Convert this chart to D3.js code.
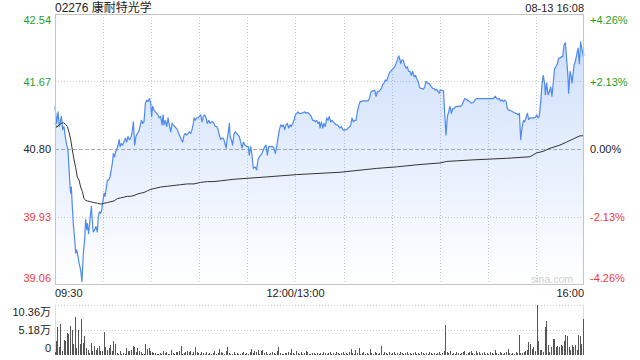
<!DOCTYPE html>
<html><head><meta charset="utf-8">
<script src="https://cdn.jsdelivr.net/npm/d3@7/dist/d3.min.js"></script>
<style>
html,body{margin:0;padding:0;background:#fff;}
svg{display:block;font-family:"Liberation Sans",Arial,"Noto Sans CJK SC",sans-serif;}
</style></head>
<body><svg id="c" width="640" height="360"></svg>
<script>
const title = "02276 康耐特光学";
const stamp = "08-13 16:08";
const prevClose = 40.80;
const priceTicks = [42.54, 41.67, 40.80, 39.93, 39.06];
const priceTickLabels = ["42.54", "41.67", "40.80", "39.93", "39.06"];
const pctTickLabels = ["+4.26%", "+2.13%", "0.00%", "-2.13%", "-4.26%"];
const timeTicks = [0, 150, 330];
const timeTickLabels = ["09:30", "12:00/13:00", "16:00"];
const volTicks = [10.36, 5.18, 0];
const volTickLabels = ["10.36万", "5.18万", "0"];

// [minute since 09:30 (lunch removed), price]
const pricePoints = [
[0,41.35],[1.0,41.13],[1.9,41.28],[2.7,41.09],[4.0,41.22],[4.8,41.05],[5.6,41.09],[6.4,40.96],[7.3,40.85],[8.1,40.79],[8.7,40.57],[9.4,40.31],[9.8,40.23],[10.2,40.31],[10.8,40.06],[11.4,39.84],[12.3,39.63],[12.9,39.46],[13.5,39.50],[14.4,39.41],[15.0,39.33],[16.0,39.24],[16.8,39.09],[17.7,39.46],[18.5,39.63],[19.1,39.89],[19.8,39.76],[20.2,39.84],[21.0,39.71],[21.8,39.89],[22.7,40.06],[23.5,39.80],[23.9,39.73],[24.8,39.76],[25.6,39.80],[26.4,39.73],[27.0,39.93],[27.7,39.99],[28.5,39.97],[29.1,40.01],[29.7,40.10],[30.6,40.23],[31.2,40.19],[31.8,40.27],[32.7,40.40],[33.5,40.40],[34.3,40.44],[35.1,40.53],[35.8,40.62],[36.4,40.74],[37.2,40.70],[37.9,40.77],[38.5,40.79],[39.3,40.85],[40.1,40.92],[40.6,40.83],[41.4,40.87],[42.2,40.85],[43.0,40.89],[43.9,40.94],[44.7,40.89],[45.5,40.96],[46.4,40.92],[47.2,40.94],[48.0,41.00],[48.9,41.15],[49.3,41.00],[49.7,40.85],[50.5,40.96],[51.4,41.00],[52.2,41.02],[53.0,41.09],[53.9,41.17],[54.7,41.13],[55.5,41.15],[56.4,41.39],[57.2,41.43],[58.0,41.41],[58.9,41.45],[59.7,41.39],[60.3,41.22],[60.9,41.35],[61.8,41.30],[62.6,41.28],[63.4,41.26],[64.3,41.24],[65.1,41.20],[65.9,41.22],[66.8,41.11],[67.4,41.24],[68.0,41.11],[68.8,41.17],[69.7,41.09],[70.5,41.20],[71.3,41.11],[72.2,41.02],[73.0,41.13],[73.8,41.11],[74.7,41.09],[75.5,41.07],[76.3,41.05],[77.2,41.00],[78.0,40.96],[78.8,40.92],[79.6,40.89],[80.5,40.98],[81.3,41.00],[82.1,40.98],[83.0,41.00],[83.8,41.02],[84.6,41.00],[85.5,41.05],[86.3,41.13],[86.7,41.20],[87.5,41.17],[88.4,41.20],[89.2,41.20],[90.0,41.22],[90.9,41.24],[91.7,41.15],[92.5,41.22],[93.4,41.24],[94.2,41.20],[95.0,41.13],[95.9,41.17],[96.7,41.13],[97.5,41.15],[98.4,41.15],[99.2,41.13],[100.0,41.09],[100.9,41.09],[101.7,41.05],[102.5,40.98],[103.4,40.92],[104.2,40.94],[105.0,40.94],[105.8,40.89],[106.7,40.81],[107.5,40.94],[108.3,41.05],[108.8,41.13],[109.2,40.96],[110.0,40.92],[110.8,40.85],[111.7,41.00],[112.5,41.02],[113.3,41.00],[114.2,40.98],[115.0,40.96],[115.8,40.89],[116.7,40.81],[117.5,40.89],
[118.5,40.85],[119.6,40.83],[120.6,40.83],[121.2,40.72],[122.1,40.83],[122.9,40.72],[123.7,40.55],[124.8,40.57],[125.8,40.53],[126.6,40.66],[127.5,40.70],[128.3,40.72],[129.1,40.74],[130.0,40.79],[130.8,40.83],[131.6,40.85],[132.5,40.72],[133.3,40.83],[134.1,40.83],[135.0,40.83],[135.8,40.83],[136.6,40.81],[137.5,40.74],[138.3,40.83],[139.1,40.94],[140.0,41.05],[140.8,41.11],[141.6,41.09],[142.4,41.11],[143.3,41.05],[144.1,41.11],[144.9,41.13],[145.8,41.07],[146.6,41.11],[147.4,41.09],[148.3,41.13],[149.1,41.17],[149.9,41.24],[150.8,41.26],[151.6,41.28],[152.4,41.26],[153.3,41.26],[154.1,41.26],[154.9,41.27],[155.8,41.28],[156.6,41.26],[157.4,41.27],[158.3,41.26],[159.1,41.24],[159.9,41.22],[160.7,41.17],[161.6,41.17],[162.4,41.15],[163.2,41.17],[164.1,41.13],[164.9,41.15],[165.3,41.07],[166.2,41.15],[167.0,41.07],[167.8,41.13],[168.6,41.09],[169.5,41.20],[170.3,41.17],[171.1,41.22],[172.0,41.15],[172.8,41.17],[173.6,41.15],[174.5,41.13],[175.3,41.11],[176.1,41.11],[177.0,41.09],[177.8,41.07],[178.6,41.09],[179.5,41.05],[180.3,41.04],[181.1,41.05],[182.0,41.05],[182.8,41.07],[183.6,41.08],[184.5,41.11],[185.3,41.20],[186.1,41.15],[186.9,41.17],[187.8,41.17],[188.6,41.28],[189.4,41.35],[190.3,41.41],[191.1,41.41],[191.9,41.42],[192.8,41.42],[193.6,41.42],[194.4,41.42],[195.3,41.42],[196.1,41.45],[196.9,41.52],[197.8,41.55],[198.6,41.55],[199.4,41.56],[200.3,41.48],[201.1,41.54],[201.9,41.54],[202.8,41.56],[203.6,41.58],[204.4,41.63],[205.2,41.65],[206.1,41.69],[206.9,41.68],[207.7,41.73],[208.6,41.78],[209.4,41.80],[210.2,41.82],[211.1,41.84],[211.9,41.86],[212.7,41.90],[213.6,41.95],[214.4,42.00],[215.2,41.95],[215.6,41.90],[216.5,41.95],[217.3,41.94],[218.1,41.88],[219.0,41.84],[219.8,41.86],[220.6,41.80],[221.5,41.80],[222.3,41.75],[223.1,41.80],[224.0,41.73],[224.8,41.75],[225.6,41.71],[226.5,41.67],[227.3,41.60],
[228.1,41.58],[229.0,41.58],[229.8,41.57],[230.6,41.60],[231.4,41.67],[232.3,41.65],[233.1,41.65],[233.9,41.63],[234.8,41.60],[235.6,41.58],[236.4,41.58],[237.3,41.56],[238.1,41.57],[238.9,41.54],[239.8,41.52],[240.2,41.56],[241.0,41.56],[242.3,41.55],[243.1,41.26],[243.9,40.98],[244.8,41.22],[245.6,41.28],[246.4,41.35],[247.3,41.26],[248.1,41.32],[248.9,41.32],[249.7,41.34],[250.6,41.35],[251.4,41.35],[252.2,41.35],[253.1,41.35],[253.9,41.37],[254.7,41.41],[255.6,41.45],[256.4,41.44],[257.2,41.43],[258.1,41.42],[258.9,41.41],[259.7,41.39],[260.6,41.40],[261.4,41.41],[262.2,41.44],[263.1,41.45],[265.1,41.45],[267.2,41.45],[269.3,41.45],[271.4,41.45],[273.5,41.45],[274.7,41.48],[275.5,41.45],[276.4,41.44],[277.2,41.45],[278.0,41.42],[278.9,41.43],[279.7,41.41],[280.5,41.43],[281.4,41.41],[282.2,41.32],[283.0,41.30],[283.8,41.30],[284.7,41.29],[285.5,41.28],[286.3,41.27],[287.2,41.26],[288.0,41.26],[288.8,41.24],[289.7,41.26],[290.5,40.92],[291.3,41.07],[292.2,41.17],[293.0,41.15],[293.8,41.20],[294.7,41.26],[295.5,41.18],[296.3,41.20],[297.2,41.20],[298.0,41.20],[298.8,41.20],[299.7,41.21],[300.5,41.24],[301.3,41.20],[302.1,41.22],[303.0,41.41],[303.8,41.63],[304.6,41.75],[305.5,41.63],[305.9,41.50],[306.7,41.65],[307.6,41.50],[308.4,41.54],[309.2,41.60],[310.0,41.48],[310.9,41.67],[311.7,41.84],[312.5,41.86],[313.4,41.90],[314.2,41.97],[315.0,41.97],[315.9,41.99],[316.7,41.99],[317.5,42.14],[318.4,42.17],[319.2,41.95],[320.0,41.73],[320.4,41.52],[321.3,41.80],[322.1,41.73],[322.5,41.65],[322.9,41.71],[323.8,41.88],[324.6,41.93],[325.4,42.01],[326.3,42.10],[327.1,41.90],[327.9,42.18],[328.8,42.08],[329.6,41.99],[330,42.03]
];

// average price line [minute, price]
const avgPoints = [
[0,41.13],[1.0,41.08],[2.5,41.11],[4.0,41.13],[5.2,41.14],[6.5,41.12],[7.7,41.09],[8.7,41.02],[9.8,40.92],[10.8,40.79],[11.9,40.66],[12.9,40.56],[13.9,40.44],[15.0,40.40],[16.0,40.31],[17.1,40.25],[18.1,40.16],[19.1,40.14],[20.2,40.13],[22.3,40.12],[24.3,40.11],[26.4,40.10],[28.5,40.09],[30.6,40.10],[32.7,40.11],[34.7,40.12],[36.8,40.13],[38.9,40.16],[41.0,40.17],[43.0,40.18],[45.1,40.19],[47.2,40.19],[49.3,40.20],[51.4,40.22],[53.4,40.23],[55.5,40.24],[57.6,40.26],[59.7,40.28],[61.8,40.29],[65.9,40.31],[70.1,40.32],[74.2,40.33],[78.4,40.34],[82.6,40.35],[86.7,40.35],[90.9,40.37],[95.0,40.38],[99.2,40.38],[103.4,40.39],[107.5,40.40],[111.7,40.41],[132.0,40.44],[150.8,40.47],[177.8,40.50],[200.7,40.55],[213.1,40.57],[227.7,40.60],[240.2,40.62],[244.4,40.64],[260.9,40.66],[281.8,40.68],[296.3,40.70],[300.5,40.75],[304.6,40.77],[308.8,40.81],[315.0,40.85],[319.2,40.89],[323.3,40.93],[327.5,40.97],[330,40.97]
];

// per-minute volume (万股), minute 0..330
const volumes = [
0.6,2.9,5.7,1.6,6.4,0.75,3.1,2.8,4.5,4.4,
5.9,5.2,2.3,7.8,1.4,5.2,2.3,7.4,2.5,3.8,
1.4,1.1,0.5,2.5,0.75,1.8,1.1,1.4,1.8,0.75,
0.75,4.65,1.6,0.96,1.4,2.1,0.9,2.8,2.3,0.4,
0.3,0.75,0.3,0.4,0.3,1.4,0.75,0.75,1.1,1.8,
1.6,0.55,1.4,0.9,0.6,0.3,0.3,2.3,1.3,1.4,
0.75,0.55,0.4,0.4,0.3,0.3,0.4,0.3,0.75,0.4,
0.55,0.3,0.2,0.96,0.4,0.3,0.6,0.55,0.75,1.9,
0.3,0.4,0.55,0.75,0.6,0.75,0.3,0.55,1.6,0.55,
0.4,0.3,0.55,0.4,0.3,0.55,0.3,0.4,0.3,0.4,
0.75,0.3,0.4,1.2,0.55,0.4,0.3,0.75,1.6,0.4,
0.3,0.2,0.55,0.3,0.4,0.3,0.2,0.4,0.55,0.3,
0.4,0.3,0.55,1.2,0.4,0.75,0.55,0.96,0.3,0.75,
0.96,0.4,0.55,0.3,0.3,0.4,0.55,0.4,0.3,0.75,
1.6,0.4,0.3,0.2,0.4,0.4,0.55,0.4,1.2,0.4,
0.3,0.75,0.4,0.3,0.55,0.3,0.4,0.75,0.55,0.3,
0.3,0.4,0.4,0.3,0.4,0.3,0.4,0.3,0.55,0.4,
0.3,0.4,0.55,0.3,0.4,0.3,0.55,0.4,0.3,0.4,
0.55,0.3,0.4,0.3,0.55,1.2,0.4,0.3,1.0,0.4,
1.4,0.3,0.4,0.55,0.3,0.4,0.3,1.2,0.4,0.3,
0.55,0.4,0.3,0.4,1.8,0.3,0.55,0.4,0.3,0.55,
0.3,0.4,0.55,0.3,0.4,0.3,0.55,0.4,0.3,0.4,
0.55,0.3,0.4,0.3,0.4,0.55,0.3,0.4,0.3,0.55,
0.4,0.3,0.4,0.3,0.55,0.4,0.3,0.4,0.3,0.4,
0.55,0.3,0.4,0.8,6.15,0.55,0.4,0.75,0.3,0.4,
0.3,0.55,0.4,0.3,0.4,0.55,0.8,0.3,0.4,0.55,
0.8,0.4,0.3,0.9,0.4,0.55,0.3,0.4,0.55,0.3,
0.4,0.3,0.55,0.4,0.3,1.0,0.4,0.3,0.55,0.4,
0.3,0.4,0.55,1.2,0.4,0.3,0.4,0.3,0.55,0.4,
4.1,0.5,0.4,0.7,0.8,1.0,2.7,2.3,1.2,1.7,
0.8,10.36,2.9,1.0,1.0,0.6,5.7,7.0,2.05,0.7,
1.6,3.3,3.2,1.7,1.85,1.7,2.05,1.85,2.9,4.1,
4.0,1.7,1.0,2.05,1.7,2.05,1.0,4.1,3.8,2.3,
7.4
];

const svg = d3.select("#c");
const L = 55, R = 584, T = 14, B = 284;
const VT = 304.5, VB = 355;
const x = d3.scaleLinear().domain([0, 330]).range([L, R]);
const y = d3.scaleLinear().domain([39.06, 42.54]).range([B, T]);
const yv = d3.scaleLinear().domain([0, 10.36]).range([VB, VT]);

const upC = "#1f9f1f", dnC = "#f03a3a", txt = "#222", grid = "#c8c8c8";

// gradient
const defs = svg.append("defs");
const g = defs.append("linearGradient").attr("id","fillg").attr("gradientUnits","userSpaceOnUse")
  .attr("x1",0).attr("y1",T).attr("x2",0).attr("y2",B);
g.append("stop").attr("offset","0").attr("stop-color","#4d8af0").attr("stop-opacity",0.3);
g.append("stop").attr("offset","1").attr("stop-color","#4d8af0").attr("stop-opacity",0.0);

// vertical grid every 30 minutes
const vgrid = d3.range(30, 330, 30);
svg.append("g").selectAll("line").data(vgrid).join("line")
  .attr("x1", d => Math.round(x(d)) + 0.5).attr("x2", d => Math.round(x(d)) + 0.5)
  .attr("y1", T).attr("y2", B)
  .attr("stroke", grid).attr("stroke-dasharray", "1,2");
// horizontal grid
svg.append("g").selectAll("line").data([priceTicks[1], priceTicks[3]]).join("line")
  .attr("x1", L).attr("x2", R)
  .attr("y1", d => Math.round(y(d)) + 0.5).attr("y2", d => Math.round(y(d)) + 0.5)
  .attr("stroke", grid).attr("stroke-dasharray", "1,2");
svg.append("line").attr("x1", L).attr("x2", R)
  .attr("y1", Math.round(y(prevClose)) + 0.5).attr("y2", Math.round(y(prevClose)) + 0.5)
  .attr("stroke", "#aaa").attr("stroke-dasharray", "4,2");

// area + line
const area = d3.area().x(d => x(d[0])).y0(B).y1(d => y(d[1]));
svg.append("path").datum(pricePoints).attr("d", area).attr("fill", "url(#fillg)");
const line = d3.line().x(d => x(d[0])).y(d => y(d[1]));
svg.append("path").datum(pricePoints).attr("d", line).attr("fill", "none")
  .attr("stroke", "#4d8af0").attr("stroke-width", 1.2).attr("stroke-linejoin","round");
svg.append("path").datum(avgPoints).attr("d", line).attr("fill", "none")
  .attr("stroke", "#333").attr("stroke-width", 1);

// frame
svg.append("rect").attr("x", L + 0.5).attr("y", T + 0.5).attr("width", R - L - 1).attr("height", B - T)
  .attr("fill", "none").attr("stroke", "#c4c4c4");

// watermark
svg.append("text").attr("x", 573).attr("y", 282.5).attr("text-anchor","end")
  .attr("font-size", 10.5).attr("fill", "#cfcfcf").text("sina.com");

// title and stamp
svg.append("text").attr("x", L).attr("y", 12).attr("font-size", 12).attr("fill", txt).text(title);
svg.append("text").attr("x", R).attr("y", 12).attr("font-size", 11).attr("text-anchor","end").attr("fill", txt).text(stamp);

// price labels
const labY = (d, i) => i === 0 ? y(d) + 10 : (i === priceTicks.length - 1 ? y(d) - 2 : y(d) + 4);
const colorFor = d => d > prevClose ? upC : (d < prevClose ? dnC : txt);
svg.append("g").selectAll("text").data(priceTicks).join("text")
  .attr("x", 51).attr("y", labY).attr("text-anchor","end").attr("font-size", 11)
  .attr("fill", colorFor).text((d, i) => priceTickLabels[i]);
svg.append("g").selectAll("text").data(priceTicks).join("text")
  .attr("x", 590).attr("y", labY).attr("text-anchor","start").attr("font-size", 11)
  .attr("fill", colorFor).text((d, i) => pctTickLabels[i]);

// time labels
svg.append("g").selectAll("text").data(timeTicks).join("text")
  .attr("x", d => x(d)).attr("y", 297).attr("font-size", 11).attr("fill", txt)
  .attr("text-anchor", (d, i) => i === 0 ? "start" : (i === timeTicks.length - 1 ? "end" : "middle"))
  .text((d, i) => timeTickLabels[i]);

// volume panel
svg.append("g").selectAll("line").data([volTicks[0], volTicks[1]]).join("line")
  .attr("x1", L).attr("x2", R)
  .attr("y1", d => Math.round(yv(d)) + 0.5).attr("y2", d => Math.round(yv(d)) + 0.5)
  .attr("stroke", grid).attr("stroke-dasharray", "1,2");
svg.append("line").attr("x1", L + 0.5).attr("x2", L + 0.5).attr("y1", VT).attr("y2", VB).attr("stroke", "#ddd");
svg.append("line").attr("x1", R - 0.5).attr("x2", R - 0.5).attr("y1", VT).attr("y2", VB).attr("stroke", "#ddd");
svg.append("g").selectAll("rect").data(volumes).join("rect")
  .attr("x", (d, i) => Math.round(x(i)) - 0.5 < L ? L : Math.round(x(i)) - 1)
  .attr("width", 1).attr("y", d => yv(d)).attr("height", d => VB - yv(d))
  .attr("fill", "#555").attr("shape-rendering", "crispEdges");
const vlabY = [316, 334, 352];
svg.append("g").selectAll("text").data(volTicks).join("text")
  .attr("x", 51).attr("y", (d, i) => vlabY[i]).attr("text-anchor","end").attr("font-size", 11)
  .attr("fill", txt).text((d, i) => volTickLabels[i]);
</script></body></html>
